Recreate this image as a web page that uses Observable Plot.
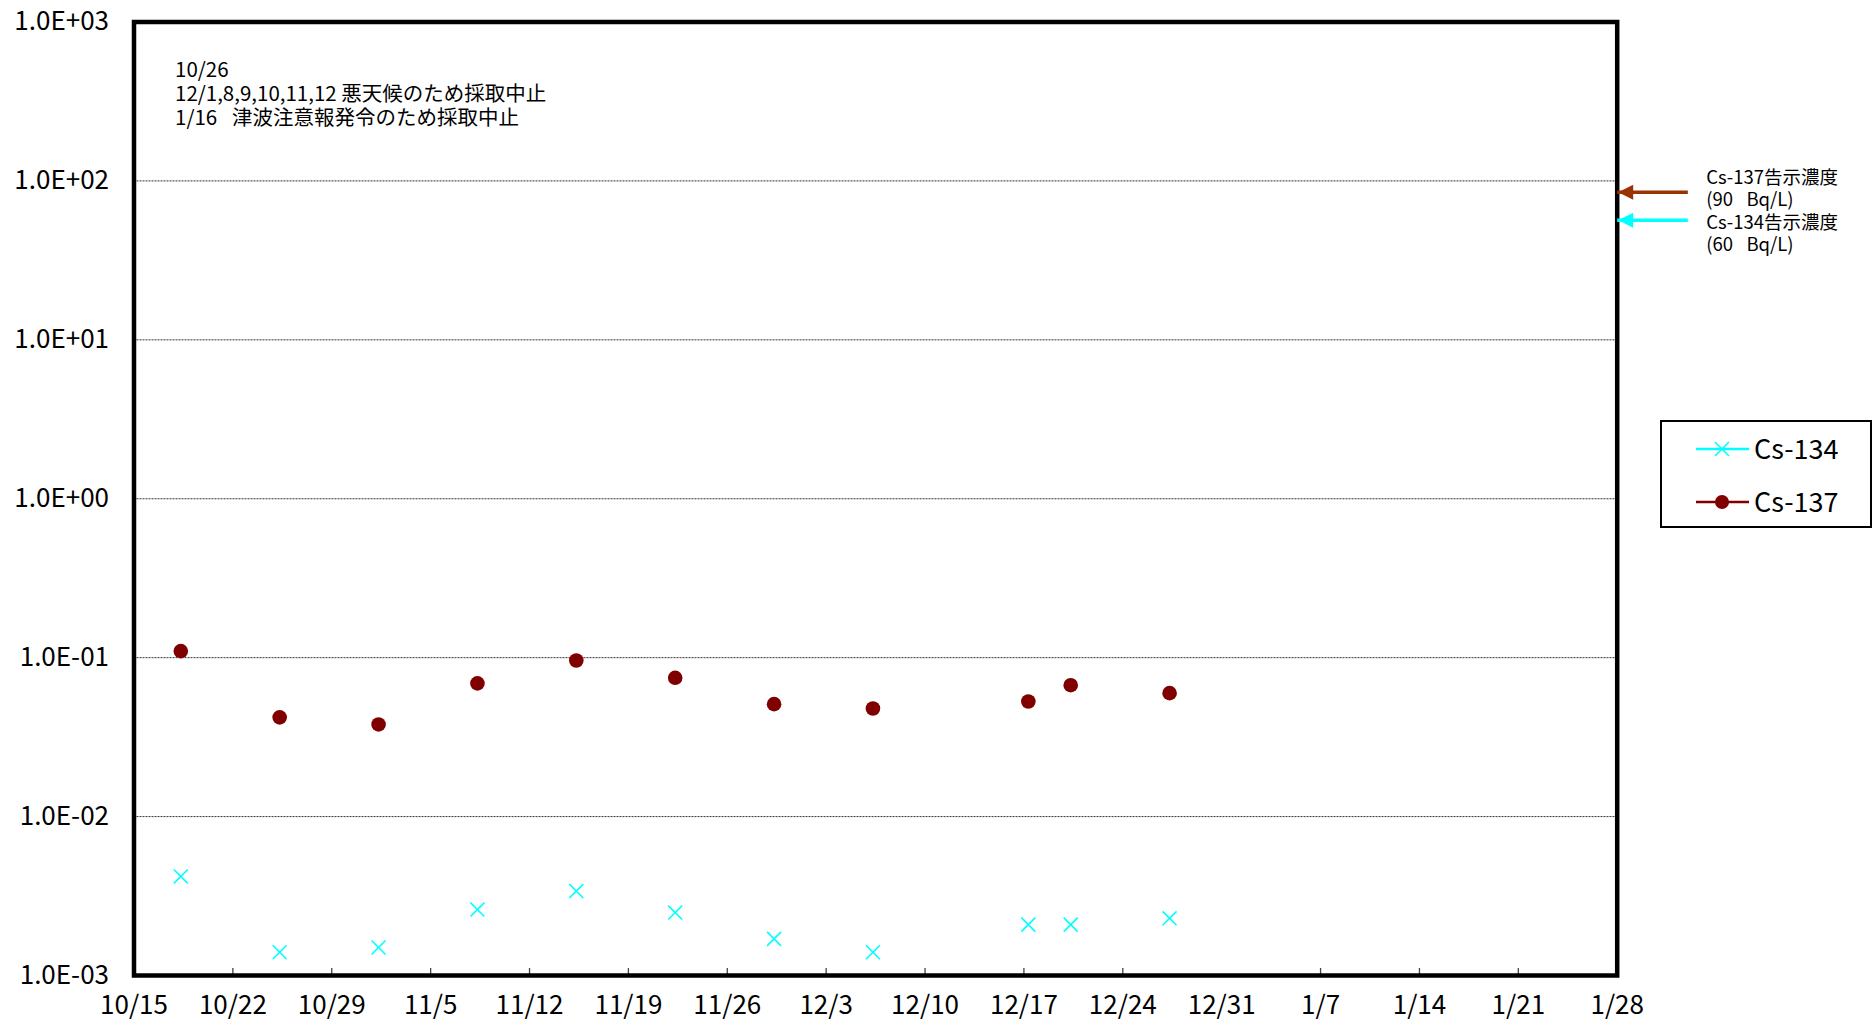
<!DOCTYPE html>
<html>
<head>
<meta charset="utf-8">
<script src="https://cdn.jsdelivr.net/npm/d3@7"></script>
<script src="https://cdn.jsdelivr.net/npm/@observablehq/plot@0.6"></script>
<style>
  body { margin: 0; background: #fff; }
  #wrap { position: relative; width: 1874px; height: 1024px; font-family: "Noto Sans CJK JP", sans-serif; }
  #legend { position: absolute; left: 1660px; top: 420px; width: 208px; height: 104px; border: 2px solid #000; background: #fff; }
</style>
</head>
<body>
<div id="wrap"></div>
<script>
// ---- data ----
const sampleDates = ["2013-10-18T07:30", "2013-10-25T07:30", "2013-11-01T07:30", "2013-11-08T07:30",
  "2013-11-15T07:30", "2013-11-22T07:30", "2013-11-29T07:30", "2013-12-06T07:30",
  "2013-12-17T07:30", "2013-12-20T07:30", "2013-12-27T07:30"];
const cs134 = [0.00420, 0.00140, 0.00150, 0.00260, 0.00340, 0.00249, 0.00170, 0.00140, 0.00209, 0.00209, 0.00229];
const cs137 = [0.110, 0.0421, 0.0380, 0.0689, 0.0960, 0.0747, 0.0510, 0.0479, 0.0530, 0.0671, 0.0598];

const xTickDates = ["2013-10-15", "2013-10-22", "2013-10-29", "2013-11-05", "2013-11-12", "2013-11-19",
  "2013-11-26", "2013-12-03", "2013-12-10", "2013-12-17", "2013-12-24", "2013-12-31",
  "2014-01-07", "2014-01-14", "2014-01-21", "2014-01-28"];
const xTickLabels = ["10/15", "10/22", "10/29", "11/5", "11/12", "11/19", "11/26", "12/3", "12/10",
  "12/17", "12/24", "12/31", "1/7", "1/14", "1/21", "1/28"];
const xTickMarkDates = ["2013-10-22", "2013-10-29", "2013-11-05", "2013-11-12", "2013-11-19",
  "2013-11-26", "2013-12-03", "2013-12-10", "2013-12-17", "2013-12-24",
  "2014-01-07", "2014-01-14", "2014-01-21"];
const yTickValues = [1e-3, 1e-2, 1e-1, 1, 10, 100, 1000];
const yTickLabels = ["1.0E-03", "1.0E-02", "1.0E-01", "1.0E+00", "1.0E+01", "1.0E+02", "1.0E+03"];

const seriesNames = ["Cs-134", "Cs-137"];
const seriesColors = ["#00FFFF", "#800000"];

const limitNames = ["Cs-137", "Cs-134"];
const limitValues = [90, 60];
const limitLabels = ["Cs-137告示濃度\n(90\u2002\u00a0Bq/L)", "Cs-134告示濃度\n(60\u2002\u00a0Bq/L)"];
const limitColors = ["#993300", "#00FFFF"];
const arrowTip = "2014-01-28";
const arrowTail = "2014-02-02";

const noteLines = ["10/26", "12/1,8,9,10,11,12 悪天候のため採取中止", "1/16\u2002\u00a0津波注意報発令のため採取中止"];

// ---- build ----
const utc = s => new Date(s + (s.length === 10 ? "T00:00Z" : "Z"));
const rows134 = sampleDates.map((d, i) => ({date: utc(d), value: cs134[i]}));
const rows137 = sampleDates.map((d, i) => ({date: utc(d), value: cs137[i]}));
const xTicks = xTickDates.map(utc);
const xLabelMap = new Map(xTicks.map((d, i) => [+d, xTickLabels[i]]));
const yLabelMap = new Map(yTickValues.map((v, i) => [v, yTickLabels[i]]));
const limits = limitNames.map((n, i) => ({name: n, value: limitValues[i], label: limitLabels[i], color: limitColors[i]}));

const W = 1874, H = 1024, mL = 133.5, mR = 257.3, mT = 21.5, mB = 49;
const frameH = H - mT - mB;
const font = "'Noto Sans CJK JP', 'Noto Sans', sans-serif";

const leftHead = {
  draw(ctx, size) {
    const r = Math.sqrt(size / Math.PI);
    ctx.moveTo(0, 0);
    ctx.lineTo(2 * r, -r);
    ctx.lineTo(2 * r, r);
    ctx.closePath();
  }
};

const limitMarks = [];
limits.forEach((l, i) => {
  limitMarks.push(
    Plot.link([l], {x1: () => utc(arrowTail), x2: () => utc(arrowTip), y1: "value", y2: "value",
      stroke: l.color, strokeWidth: 3.5, dy: 4}),
    Plot.dot([l], {x: () => utc(arrowTip), y: "value", symbol: leftHead, r: 7.5, fill: l.color, dy: 4, dx: 1}),
    Plot.text([l], {y: "value", text: "label", frameAnchor: "right", textAnchor: "start",
      lineAnchor: "middle", dx: 89, dy: i === 0 ? 0 : 17, fontSize: 18.5, lineHeight: 1.16, fill: "#000"})
  );
});

const chart = Plot.plot({
  width: W, height: H,
  marginLeft: mL, marginRight: mR, marginTop: mT, marginBottom: mB,
  style: {fontFamily: font, fontSize: "26px", background: "white", color: "black", overflow: "visible"},
  x: {type: "utc", domain: [utc("2013-10-15"), utc("2014-01-28")], label: null},
  y: {type: "log", domain: [1e-3, 1e3], label: null},
  marks: [
    Plot.ruleY(yTickValues.slice(1, -1), {stroke: "#333", strokeWidth: 1, strokeDasharray: "2,1"}),
    Plot.ruleX(xTickMarkDates.map(utc), {x: d => d, insetTop: frameH - 7, stroke: "#444", strokeWidth: 1.3}),
    Plot.axisX(xTicks, {tickSize: 0, tickPadding: 20, tickFormat: d => xLabelMap.get(+d), fontSize: 26, label: null}),
    Plot.axisY(yTickValues, {tickSize: 0, tickPadding: 25, tickFormat: d => yLabelMap.get(d), fontSize: 26, label: null}),
    Plot.dot(rows137, {x: "date", y: "value", r: 7.3, fill: seriesColors[1]}),
    Plot.dot(rows134, {x: "date", y: "value", symbol: "times", r: 6.4, stroke: seriesColors[0], strokeWidth: 1.6}),
    Plot.frame({stroke: "black", strokeWidth: 4.5}),
    Plot.text([noteLines.join("\n")], {frameAnchor: "top-left", textAnchor: "start", lineAnchor: "top",
      dx: 41, dy: 38, fontSize: 20.5, lineHeight: 1.17, fill: "#000"}),
    ...limitMarks
  ]
});

const wrap = document.getElementById("wrap");
wrap.appendChild(chart);

// ---- legend ----
const legend = d3.select(wrap).append("div").attr("id", "legend");
const lsvg = legend.append("svg").attr("width", 208).attr("height", 104)
  .style("font-family", font);
const rowsY = [27, 80];
seriesNames.forEach((name, i) => {
  const g = lsvg.append("g").attr("transform", `translate(0,${rowsY[i]})`);
  g.append("line").attr("x1", 34).attr("x2", 87).attr("y1", 0).attr("y2", 0)
    .attr("stroke", seriesColors[i]).attr("stroke-width", 2.5);
  if (i === 0) {
    g.append("path").attr("transform", "translate(60,0)")
      .attr("d", d3.symbol(d3.symbolTimes, Math.PI * 6.4 * 6.4)())
      .attr("stroke", seriesColors[i]).attr("stroke-width", 1.6).attr("fill", "none");
  } else {
    g.append("circle").attr("cx", 60).attr("cy", 0).attr("r", 7).attr("fill", seriesColors[i]);
  }
  g.append("text").attr("x", 92).attr("y", 0).attr("dy", "0.36em")
    .attr("font-size", 27).attr("fill", "#000").text(name);
});
</script>
</body>
</html>
